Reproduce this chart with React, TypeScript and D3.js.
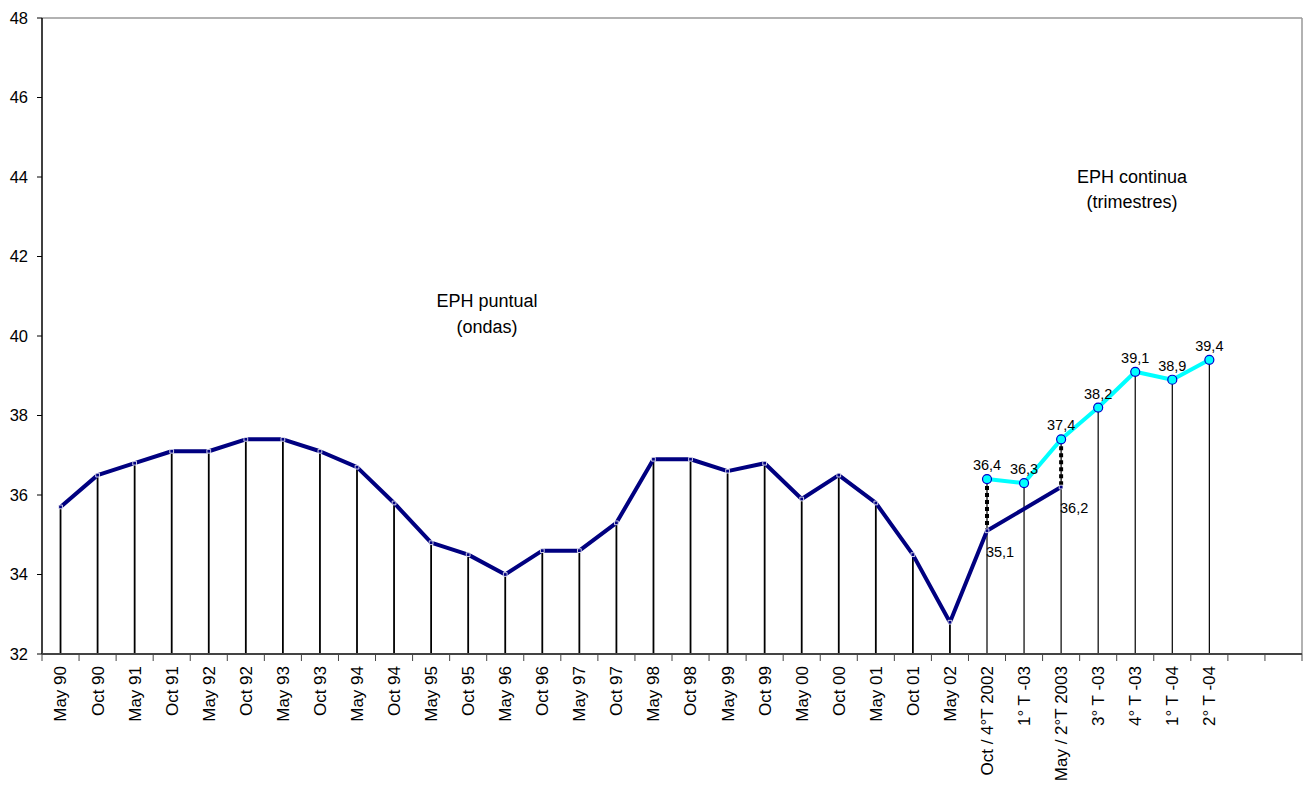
import React from "react";
import * as d3 from "d3";

const categories = [
  "May 90", "Oct 90", "May 91", "Oct 91", "May 92", "Oct 92", "May 93", "Oct 93",
  "May 94", "Oct 94", "May 95", "Oct 95", "May 96", "Oct 96", "May 97", "Oct 97",
  "May 98", "Oct 98", "May 99", "Oct 99", "May 00", "Oct 00", "May 01", "Oct 01",
  "May 02", "Oct / 4°T 2002", "1° T -03", "May / 2°T 2003", "3° T -03", "4° T -03",
  "1° T -04", "2° T -04", "", "",
];

const puntual: (number | null)[] = [
  35.7, 36.5, 36.8, 37.1, 37.1, 37.4, 37.4, 37.1,
  36.7, 35.8, 34.8, 34.5, 34.0, 34.6, 34.6, 35.3,
  36.9, 36.9, 36.6, 36.8, 35.9, 36.5, 35.8, 34.5,
  32.8, 35.1, null, 36.2, null, null, null, null, null, null,
];

const continua: (number | null)[] = [
  null, null, null, null, null, null, null, null,
  null, null, null, null, null, null, null, null,
  null, null, null, null, null, null, null, null,
  null, 36.4, 36.3, 37.4, 38.2, 39.1, 38.9, 39.4, null, null,
];

const puntualLabeled = [25, 27];
const yTicks = [32, 34, 36, 38, 40, 42, 44, 46, 48];

const W = 1304;
const H = 785;
const L = 42;
const R = 1302;
const T = 18;
const B = 654;
const FONT = "'Liberation Sans', Arial, sans-serif";

const fmt = (v: number) => v.toFixed(1).replace(".", ",");

export default function App() {
  const x = d3.scaleBand<string>().domain(categories.map((_, i) => String(i))).range([L, R]).padding(0);
  const y = d3.scaleLinear().domain([32, 48]).range([B, T]);
  const cx = (i: number) => (x(String(i)) as number) + x.bandwidth() / 2;

  const pPts = puntual
    .map((v, i) => (v == null ? null : [cx(i), y(v)] as [number, number]))
    .filter((p): p is [number, number] => p !== null);
  const cPts = continua
    .map((v, i) => (v == null ? null : [cx(i), y(v)] as [number, number]))
    .filter((p): p is [number, number] => p !== null);
  const line = d3.line<[number, number]>();
  const marker = d3.symbol().type(d3.symbolSquare).size(14)() as string;

  return (
    <svg width={W} height={H} style={{ position: "absolute", left: 0, top: 0, background: "#fff" }} fontFamily={FONT}>
      <rect x={0} y={0} width={W} height={H} fill="#fff" />
      {/* plot frame */}
      <line x1={L} x2={R} y1={T} y2={T} stroke="#999" strokeWidth={1.5} />
      <line x1={R} x2={R} y1={T} y2={B} stroke="#999" strokeWidth={1.5} />

      {/* drop lines */}
      {categories.map((_, i) => {
        const vals = [puntual[i], continua[i]].filter((v): v is number => v != null);
        if (!vals.length) return null;
        const top = Math.max(...vals);
        const thick = continua[i] == null;
        return <line key={"d" + i} x1={cx(i)} x2={cx(i)} y1={y(top)} y2={B} stroke="#000" strokeWidth={thick ? 1.8 : 1.2} />;
      })}
      {/* high-low dotted */}
      {categories.map((_, i) => {
        const a = puntual[i];
        const b = continua[i];
        if (a == null || b == null) return null;
        return <line key={"h" + i} x1={cx(i)} x2={cx(i)} y1={y(b)} y2={y(a)} stroke="#000" strokeWidth={4} strokeDasharray="4,3" />;
      })}

      {/* axes */}
      <line x1={L} x2={L} y1={T} y2={B} stroke="#000" strokeWidth={1.5} />
      {yTicks.map((t) => (
        <g key={"y" + t}>
          <line x1={L - 5} x2={L} y1={y(t)} y2={y(t)} stroke="#000" strokeWidth={1} />
          <text x={28} y={y(t)} dy="0.35em" textAnchor="end" fontSize={16.5} fill="#000">{t}</text>
        </g>
      ))}
      <line x1={L} x2={R} y1={B} y2={B} stroke="#444" strokeWidth={2} />
      {d3.range(categories.length + 1).map((i) => {
        const xx = i < categories.length ? (x(String(i)) as number) : R;
        return <line key={"t" + i} x1={xx} x2={xx} y1={B} y2={B + 7} stroke="#444" strokeWidth={1} />;
      })}
      {categories.map((c, i) =>
        c ? (
          <text key={"xl" + i} transform={`translate(${cx(i)},${B + 12}) rotate(-90)`} dy="0.35em" textAnchor="end" fontSize={17} fill="#000">
            {c}
          </text>
        ) : null
      )}

      {/* series */}
      <path d={line(pPts) as string} fill="none" stroke="#000080" strokeWidth={4} strokeLinejoin="round" />
      {pPts.map((p, i) => (
        <path key={"pm" + i} d={marker} transform={`translate(${p[0]},${p[1]})`} fill="#000080" stroke="#fff" strokeWidth={0.8} />
      ))}
      <path d={line(cPts) as string} fill="none" stroke="#00FFFF" strokeWidth={4} strokeLinejoin="round" />
      {cPts.map((p, i) => (
        <circle key={"cm" + i} cx={p[0]} cy={p[1]} r={4.5} fill="#00FFFF" stroke="#0000CC" strokeWidth={1.2} />
      ))}

      {/* data labels */}
      {continua.map((v, i) =>
        v == null ? null : (
          <text key={"cl" + i} x={cx(i)} y={y(v) - 14} dy="0.35em" textAnchor="middle" fontSize={14.5} fill="#000">
            {fmt(v)}
          </text>
        )
      )}
      {puntualLabeled.map((i) => {
        const v = puntual[i] as number;
        return (
          <text key={"pl" + i} x={cx(i) + 13} y={y(v) + 21} dy="0.35em" textAnchor="middle" fontSize={14.5} fill="#000">
            {fmt(v)}
          </text>
        );
      })}

      {/* annotations */}
      <text x={487} y={301} dy="0.35em" textAnchor="middle" fontSize={18} fill="#000">EPH puntual</text>
      <text x={487} y={327} dy="0.35em" textAnchor="middle" fontSize={18} fill="#000">(ondas)</text>
      <text x={1132} y={177} dy="0.35em" textAnchor="middle" fontSize={18} fill="#000">EPH continua</text>
      <text x={1132} y={202} dy="0.35em" textAnchor="middle" fontSize={18} fill="#000">(trimestres)</text>
    </svg>
  );
}
